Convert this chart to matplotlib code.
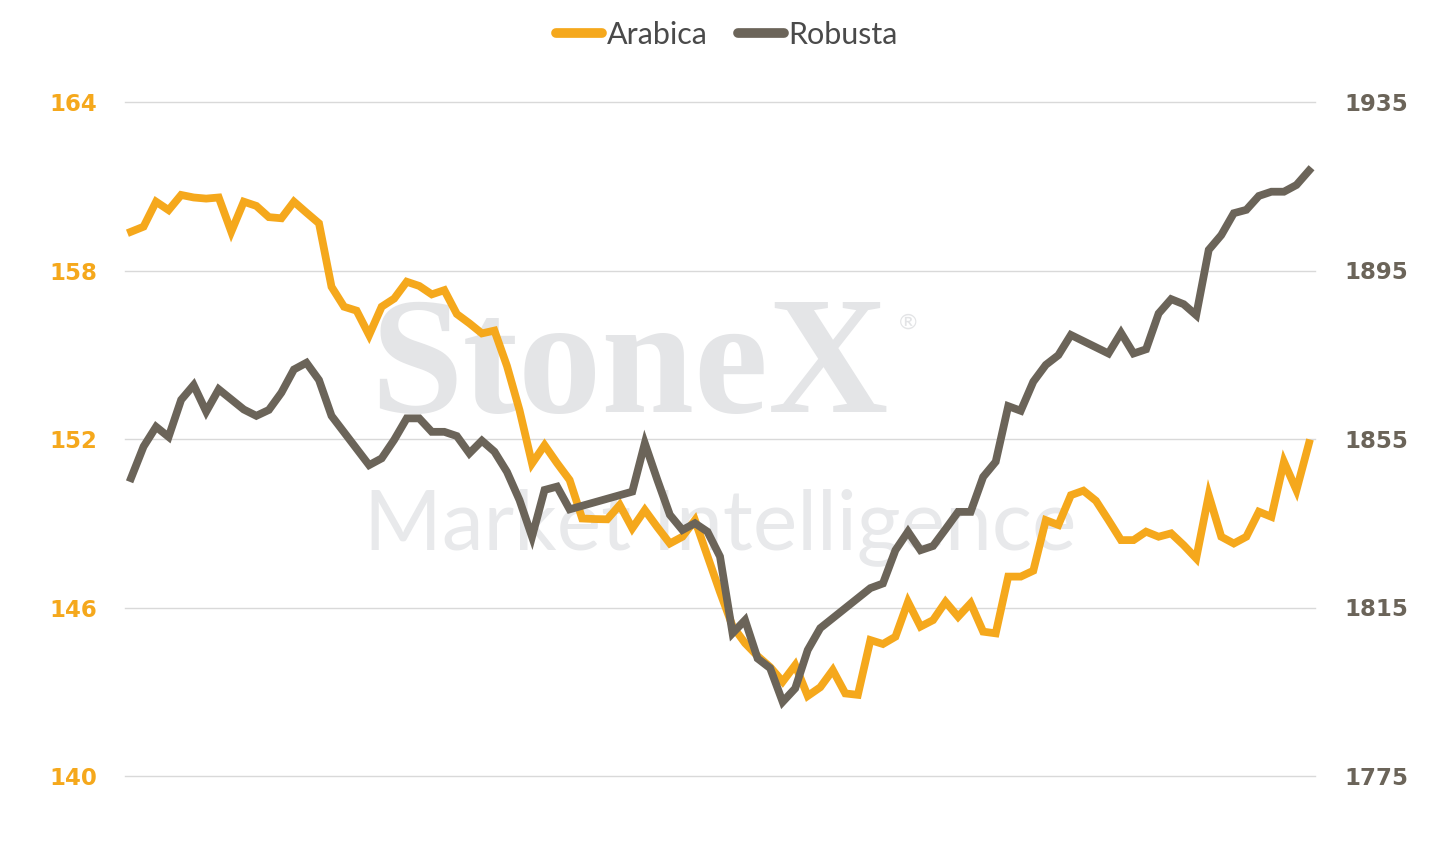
import matplotlib.pyplot as plt
from matplotlib.lines import Line2D

# daily settlements, one slot per trading day (None = no print for that market)
arabica = [
    159.38, 159.56, 160.45, 160.15, 160.69, 160.60, 160.56, 160.60, 159.38, 160.45,
    160.30, 159.90, 159.86, 160.45, 160.06, 159.68, 157.42, 156.71, 156.57, 155.70,
    156.71, 157.00, 157.60, 157.45, 157.15, 157.30, 156.45, 156.12, 155.76, 155.86,
    154.60, 153.03, 151.13, 151.78, 151.14, 150.54, 149.17, 149.15, 149.14, 149.65,
    148.82, 149.47, 148.86, 148.28, 148.52, 149.11, 147.83, 146.55, 145.34, 144.73,
    144.27, 143.88, 143.36, 143.95, 142.85, 143.16, 143.77, 142.94, 142.89, 144.84,
    144.70, 144.96, 146.20, 145.32, 145.55, 146.20, 145.67, 146.15, 145.14, 145.08,
    147.10, 147.10, 147.31, 149.11, 148.94, 150.00, 150.16, 149.80, 149.11, 148.40,
    148.40, 148.70, 148.52, 148.64, 148.22, 147.75, 150.00, 148.52, 148.28, 148.52,
    149.41, 149.23, 151.19, 150.18, 151.85,
]
robusta = [
    1845.7, 1853.2, 1857.9, 1855.5, 1864.3, 1867.8, 1861.5, 1866.8, 1864.4, 1862.0,
    1860.5, 1861.9, 1866.0, 1871.5, 1873.1, 1869.0, 1860.5, None, None, 1848.8,
    1850.4, 1854.8, 1859.9, 1859.9, 1856.7, 1856.7, 1855.7, 1851.6, 1854.6, 1852.0,
    1847.2, 1840.5, 1831.8, 1842.9, 1843.7, 1838.3, None, None, None, None,
    1842.5, 1854.0, 1845.3, 1837.0, 1833.4, 1835.0, 1833.0, 1827.1, 1808.9, 1812.0,
    1802.9, 1800.6, 1792.6, 1795.8, 1804.9, 1810.1, None, None, None, 1819.6,
    1820.7, 1828.6, 1833.0, 1828.6, 1829.6, 1833.6, 1837.7, 1837.7, 1846.0, 1849.6,
    1862.8, 1861.7, 1868.6, 1872.6, 1874.9, 1879.7, None, None, 1875.3, 1880.2,
    1875.3, 1876.3, 1884.8, 1888.2, 1887.0, 1884.4, 1899.9, 1903.4, 1908.6, 1909.4,
    1912.7, 1913.7, 1913.7, 1915.3, 1918.7,
]
left_ticks = [140, 146, 152, 158, 164]
right_ticks = [1775, 1815, 1855, 1895, 1935]

ORANGE = '#F5A81C'
GREY = '#6B6459'

plt.rcParams['font.family'] = ['Lato', 'DejaVu Sans']

fig = plt.figure(figsize=(14.54, 8.42), dpi=100)
ax = fig.add_axes([125 / 1454, 1 - 776 / 842, 1190 / 1454, 674 / 842])
ax2 = ax.twinx()

# watermark
ax.text(0.424, 0.60, 'StoneX', transform=ax.transAxes, ha='center', va='center',
        fontsize=120, fontweight='bold', family=['Liberation Serif', 'DejaVu Serif'],
        color='#e4e5e7', zorder=0)
ax.text(0.658, 0.672, '®', transform=ax.transAxes, ha='center', va='center',
        fontsize=16, color='#e3e4e6', zorder=0)
ax.text(0.50, 0.37, 'Market Intelligence', transform=ax.transAxes, ha='center', va='center',
        fontsize=60.5, fontweight='normal', color='#e8e9eb', zorder=0)

x_all = list(range(len(arabica)))
ax.plot(x_all, arabica, color=ORANGE, lw=5.6, solid_joinstyle='miter', zorder=3)

rx = [i for i, v in enumerate(robusta) if v is not None]
ry = [v for v in robusta if v is not None]
ax2.plot(rx, ry, color=GREY, lw=5.6, solid_joinstyle='miter', zorder=3)

ax.set_xlim(-0.48, len(arabica) - 1 + 0.48)
ax.set_ylim(140, 164)
ax2.set_ylim(1775, 1935)
tick_font = dict(family='DejaVu Sans', fontweight='bold', fontsize=16.5)
ax.set_yticks(left_ticks, labels=[str(t) for t in left_ticks], color=ORANGE, **tick_font)
ax2.set_yticks(right_ticks, labels=[str(t) for t in right_ticks], color=GREY, **tick_font)
ax.set_xticks([])

ax.grid(axis='y', color='#d9d9d9', lw=1)
ax.set_axisbelow(True)
for gl in ax.get_ygridlines():
    gl.set_clip_on(False)
for a in (ax, ax2):
    for s in a.spines.values():
        s.set_visible(False)

ax.tick_params(axis='y', length=0, pad=20)
ax2.tick_params(axis='y', length=0, pad=21.5)

handles = [Line2D([], [], color=ORANGE, lw=7, solid_capstyle='round'),
           Line2D([], [], color=GREY, lw=7, solid_capstyle='round')]
fig.legend(handles, ['Arabica', 'Robusta'], loc='upper center', bbox_to_anchor=(0.5, 1.008), ncol=2,
           frameon=False, fontsize=22, handlelength=1.5, handletextpad=0.15,
           columnspacing=1.0, labelcolor='#4a4a4a')

fig.savefig('out.png', dpi=100)
